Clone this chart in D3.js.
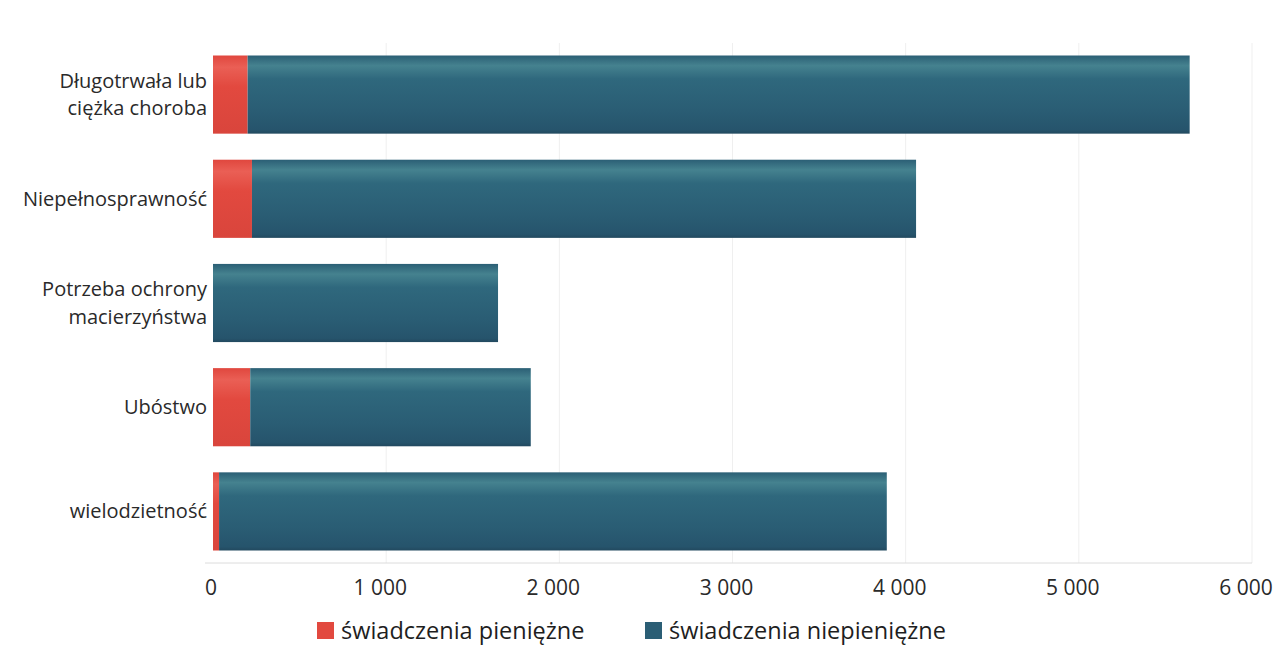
<!DOCTYPE html>
<html><head><meta charset="utf-8">
<script src="https://cdn.jsdelivr.net/npm/d3@7"></script>
<style>
html,body{margin:0;padding:0;background:#fff;}
svg{display:block;font-family:"Open Sans",sans-serif;}
</style></head>
<body>
<svg id="chart" width="1279" height="645"></svg>
<script>
const categories = ["Długotrwała lub|ciężka choroba","Niepełnosprawność","Potrzeba ochrony|macierzyństwa","Ubóstwo","wielodzietność"];
const seriesNames = ["świadczenia pieniężne","świadczenia niepieniężne"];
const cashValues = [200, 225, 0, 215, 35];
const nonCashValues = [5440, 3835, 1646, 1620, 3856];
const tickValues = [0,1000,2000,3000,4000,5000,6000];
const colors = ["#e2493f","#2b5e75"];

const svg = d3.select("#chart");
const x = d3.scaleLinear().domain([0,6000]).range([213,1252]);
const y = d3.scaleBand().domain(categories).range([43,563]).paddingInner(0.25).paddingOuter(0.12);

const defs = svg.append("defs");
function grad(id, stops){
  const g = defs.append("linearGradient").attr("id",id).attr("x1",0).attr("x2",0).attr("y1",0).attr("y2",1);
  stops.forEach(s=>g.append("stop").attr("offset",s[0]).attr("stop-color",s[1]));
}
grad("g0",[[0,"#e0473e"],[0.15,"#ea5f55"],[0.4,"#e2493f"],[1,"#d9453c"]]);
grad("g1",[[0,"#2b5f75"],[0.13,"#45828f"],[0.3,"#2f687d"],[0.7,"#2a5d74"],[0.95,"#26546c"],[1,"#22495f"]]);

// gridlines
svg.append("g").selectAll("line").data(tickValues.slice(1)).join("line")
  .attr("x1",d=>x(d)).attr("x2",d=>x(d)).attr("y1",43).attr("y2",563)
  .attr("stroke","#efefef").attr("stroke-width",1);

// baseline
svg.append("line").attr("x1",205).attr("x2",1252).attr("y1",563).attr("y2",563)
  .attr("stroke","#dcdcdc").attr("stroke-width",1);

const data = categories.map((c,i)=>({cat:c, v0:cashValues[i], v1:nonCashValues[i]}));
const stack = d3.stack().keys(["v0","v1"])(data);

svg.append("g").selectAll("g").data(stack).join("g")
  .attr("fill",(d,i)=>`url(#g${i})`)
  .selectAll("rect").data(d=>d).join("rect")
  .attr("x",d=>x(d[0])).attr("width",d=>Math.max(0,x(d[1])-x(d[0])))
  .attr("y",d=>y(d.data.cat)).attr("height",y.bandwidth());

// y labels
const yl = svg.append("g");
categories.forEach(c=>{
  const lines = c.split("|");
  const cy = y(c)+y.bandwidth()/2;
  lines.forEach((l,i)=>{
    yl.append("text").attr("text-anchor","end").attr("fill","#2a2a2a").attr("font-size",20)
      .attr("x",207).attr("y",cy + (i-(lines.length-1)/2)*27.5).attr("dy","0.35em").text(l);
  });
});

// x axis labels
const fmt = d=> d===0 ? "0" : d3.format(",")(d).replace(/,/g," ");
svg.append("g").selectAll("text").data(tickValues).join("text")
  .attr("x",d=>x(d)).attr("y",588).attr("dy","0.35em").attr("text-anchor",d=>d===0?"end":"middle")
  .attr("dx",d=>d===0?4:-6)
  .attr("font-size",21).attr("fill","#2a2a2a").text(fmt);

// legend
const legendX = [317,645];
const lg = svg.append("g");
seriesNames.forEach((n,i)=>{
  lg.append("rect").attr("x",legendX[i]).attr("y",622).attr("width",17).attr("height",17).attr("fill",colors[i]);
  lg.append("text").attr("x",legendX[i]+24).attr("y",631).attr("dy","0.35em")
    .attr("font-size",23.5).attr("fill","#1e1e1e").text(n);
});
</script>
</body></html>
